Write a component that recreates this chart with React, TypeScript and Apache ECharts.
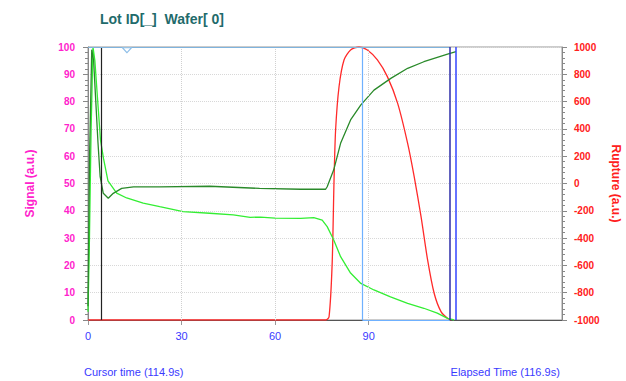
import React, { useEffect, useRef } from "react";
import * as echarts from "echarts";

const titleText = "Lot ID[_]  Wafer[ 0]";
const cursorText = "Cursor time (114.9s)";
const elapsedText = "Elapsed Time (116.9s)";
const xTickLabels = [0, 30, 60, 90];

const lightTime = [0, 0.4, 1.0, 1.6, 2.2, 3, 4, 5, 6.4, 9.2, 12.4, 17.7, 23, 30.5, 39, 46.6, 52, 55.3, 60, 68.2, 72.4, 75.1, 76.7, 78.8, 81, 84.2, 87.5, 91.7, 97, 102.5, 107.7, 112, 115.3, 117.4];
const lightSignal = [3, 25, 70, 100, 95, 82, 66, 59, 51, 46.5, 44.7, 42.8, 41.5, 39.7, 39.1, 38.5, 37.6, 37.7, 37.3, 37.2, 37.5, 36.6, 34.2, 29.3, 23.2, 17.2, 13.4, 11, 8.5, 6.1, 4.3, 2.5, 0.6, 0];

const darkTime = [0, 0.5, 1.2, 1.8, 2.5, 3.2, 3.9, 4.9, 6.5, 8.1, 10.8, 14.6, 23, 39, 55, 68.2, 76.2, 76.7, 78.8, 81, 84.2, 87.5, 91.7, 97.1, 102.5, 107.7, 115.3, 118];
const darkSignal = [5, 60, 99, 95, 80, 65, 52.5, 46.4, 44.6, 46.4, 48.2, 48.8, 48.8, 49, 48.2, 47.9, 47.9, 48.8, 55, 64.7, 73.3, 78.8, 84.2, 88.5, 92.2, 94.6, 97.4, 98.3];

const ruptureTime = [0, 76.3, 77.3, 78.3, 78.9, 79.4, 80.5, 82.1, 84.2, 86.9, 89.6, 92.8, 96, 99.3, 102.5, 104.6, 106.8, 108.9, 111, 113.2, 115.3, 116.5];
const ruptureValue = [-1000, -1000, -976, -585, 26, 392, 709, 905, 978, 1000, 978, 905, 783, 587, 294, 50, -243, -560, -804, -939, -988, -1000];

const blackCursor = 4.3;
const lightBlueCursor = 88;
const navyCursor = 116;
const blueCursor = 118;
const gridXs = [30, 60, 90];

const zip = (a: number[], b: number[]) => a.map((t, i) => [t, b[i]]);

export default function App() {
  const ref = useRef<HTMLDivElement>(null);
  useEffect(() => {
    const chart = echarts.init(ref.current!, null, { renderer: "svg" });
    const font = "Arial, 'Liberation Sans', sans-serif";
    chart.setOption({
      animation: false,
      backgroundColor: "#ffffff",
      grid: { left: 88, right: 64, top: 47, bottom: 61, show: true, borderColor: "#999", borderWidth: 1, containLabel: false, outerBoundsMode: "none" },
      graphic: [
        { type: "text", left: 100, top: 12, style: { text: titleText, fill: "#1f6b6b", font: "bold 14px " + font } },
        { type: "text", left: 84, top: 366, style: { text: cursorText, fill: "#3a3aff", font: "11px " + font } },
        { type: "text", right: 66, top: 366, style: { text: elapsedText, fill: "#3a3aff", font: "11px " + font } },
      ],
      xAxis: {
        type: "value", min: 0, max: 152, interval: 30,
        axisLine: { lineStyle: { color: "#555" } },
        axisTick: { customValues: xTickLabels, length: 5, lineStyle: { color: "#999" } },
        axisLabel: { customValues: xTickLabels, color: "#3a3aff", fontSize: 11, fontFamily: font, margin: 10, formatter: (v: number) => String(v) },
        splitLine: { show: false },
      },
      yAxis: [
        {
          type: "value", min: 0, max: 100, interval: 10, position: "left",
          name: "Signal (a.u.)", nameLocation: "middle", nameGap: 52, nameRotate: 90,
          nameTextStyle: { color: "#ff22cc", fontSize: 12, fontWeight: "bold", fontFamily: font },
          axisLine: { show: true, lineStyle: { color: "#888" } },
          axisTick: { show: true, length: 5, lineStyle: { color: "#888" } },
          minorTick: { show: true, splitNumber: 5, length: 3, lineStyle: { color: "#888" } },
          axisLabel: { color: "#ff22cc", fontSize: 10, fontWeight: "bold", fontFamily: font, margin: 13, formatter: (v: number) => String(v) },
          splitLine: { show: true, lineStyle: { color: "#d8d8d8", type: "dotted" } },
        },
        {
          type: "value", min: -1000, max: 1000, interval: 200, position: "right",
          name: "Rupture (a.u.)", nameLocation: "middle", nameGap: 46, nameRotate: -90,
          nameTextStyle: { color: "#ff2020", fontSize: 12, fontWeight: "bold", fontFamily: font },
          axisLine: { show: true, lineStyle: { color: "#888" } },
          axisTick: { show: true, length: 5, lineStyle: { color: "#888" } },
          minorTick: { show: true, splitNumber: 5, length: 3, lineStyle: { color: "#888" } },
          axisLabel: { color: "#ff2020", fontSize: 10, fontWeight: "bold", fontFamily: font, margin: 12, formatter: (v: number) => String(v) },
          splitLine: { show: false },
        },
      ],
      series: [
        {
          type: "line", yAxisIndex: 0, data: zip(lightTime, lightSignal), showSymbol: false,
          lineStyle: { color: "#33ee33", width: 1.3 }, z: 3,
          markLine: {
            silent: true, symbol: "none", label: { show: false },
            data: [
              ...gridXs.map((x) => ({ xAxis: x, lineStyle: { color: "#d0d0d0", type: "dotted", width: 1 } })),
              { xAxis: blackCursor, lineStyle: { color: "#222", type: "solid", width: 1.2 } },
              { xAxis: lightBlueCursor, lineStyle: { color: "#6fb1ff", type: "solid", width: 1.2 } },
              [{ coord: [0, 100], lineStyle: { color: "#7fb3dd", type: "solid", width: 1.2 } }, { coord: [navyCursor, 100] }],
              [{ coord: [lightBlueCursor, 0], lineStyle: { color: "#6fb1ff", type: "solid", width: 1.2 } }, { coord: [navyCursor, 0] }],
              { xAxis: navyCursor, lineStyle: { color: "#2c2ca8", type: "solid", width: 1.5 } },
              { xAxis: blueCursor, lineStyle: { color: "#3344ff", type: "solid", width: 1.5 } },
            ],
          },
          markPoint: {
            silent: true, label: { show: false },
            data: [{ coord: [12.5, 98.8], symbol: "triangle", symbolRotate: 180, symbolSize: [9, 5], itemStyle: { color: "#ffffff", borderColor: "#8fbfe8", borderWidth: 1 } }],
          },
        },
        {
          type: "line", yAxisIndex: 0, data: zip(darkTime, darkSignal), showSymbol: false,
          lineStyle: { color: "#2a8a2a", width: 1.3 }, z: 3,
        },
        {
          type: "line", yAxisIndex: 1, data: zip(ruptureTime, ruptureValue), showSymbol: false, smooth: 0.25,
          lineStyle: { color: "#ff2a2a", width: 1.3 }, z: 2,
        },
      ],
    });
    return () => chart.dispose();
  }, []);
  return <div ref={ref} style={{ width: 626, height: 381, position: "absolute", left: 0, top: 0 }} />;
}
